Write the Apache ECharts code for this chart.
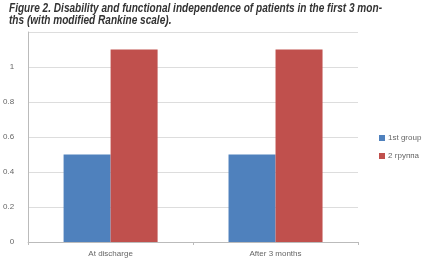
<!DOCTYPE html>
<html>
<head>
<meta charset="utf-8">
<script src="https://cdn.jsdelivr.net/npm/echarts@6/dist/echarts.min.js"></script>
<style>
html, body { margin: 0; padding: 0; background: #fff; }
#title { position: absolute; left: 9px; top: 2px; white-space: nowrap; font-family: "Liberation Sans", sans-serif; font-style: italic; font-weight: bold; font-size: 12px; line-height: 12px; color: #333; transform: scaleX(0.84); transform-origin: left top; }
#ct1 { position: absolute; left: 0; top: 0; width: 432px; height: 276px; }
</style>
</head>
<body>
<div id="ct1"></div>
<div id="title">Figure 2. Disability and functional independence of patients in the first 3 mon-<br>ths (with modified Rankine scale).</div>
<script>
var categories = ['At discharge', 'After 3 months'];
var group1 = [0.5, 0.5];
var group2 = [1.1, 1.1];
var seriesNames = ['1st group', '2 группа'];

var option1 = {
	animation: false,
	textStyle: { fontFamily: 'Liberation Sans' },
	grid: { left: 28, right: 74, top: 32, bottom: 34 },
	legend: {
		orient: 'vertical',
		left: 374,
		top: 129,
		itemWidth: 6,
		itemHeight: 6,
		itemGap: 10,
		icon: 'rect',
		textStyle: { fontSize: 8, color: '#666', padding: [0, 0, 0, -2] },
		data: seriesNames
	},
	xAxis: [{
		type: 'category',
		data: categories,
		axisLine: { lineStyle: { color: '#bbb' } },
		axisTick: { show: true, alignWithLabel: false, length: 3, lineStyle: { color: '#bbb' } },
		axisLabel: { fontSize: 8, color: '#666', margin: 8 }
	}],
	yAxis: [{
		type: 'value',
		min: 0,
		max: 1.2,
		interval: 0.2,
		axisLine: { show: true, lineStyle: { color: '#bbb' } },
		axisTick: { show: false },
		splitLine: { lineStyle: { color: '#ddd' } },
		axisLabel: { fontSize: 8, color: '#666', margin: 14, formatter: function (v) { return v === 1.2 ? '' : String(+v.toFixed(1)); } }
	}],
	series: [{
		name: seriesNames[0],
		type: 'bar',
		data: group1,
		barGap: '0%',
		barCategoryGap: '43%',
		itemStyle: { color: '#4F81BD' }
	}, {
		name: seriesNames[1],
		type: 'bar',
		data: group2,
		itemStyle: { color: '#C0504D' }
	}]
};

var myChart1 = echarts.init(document.getElementById('ct1'));
myChart1.setOption(option1, true);
</script>
</body>
</html>
